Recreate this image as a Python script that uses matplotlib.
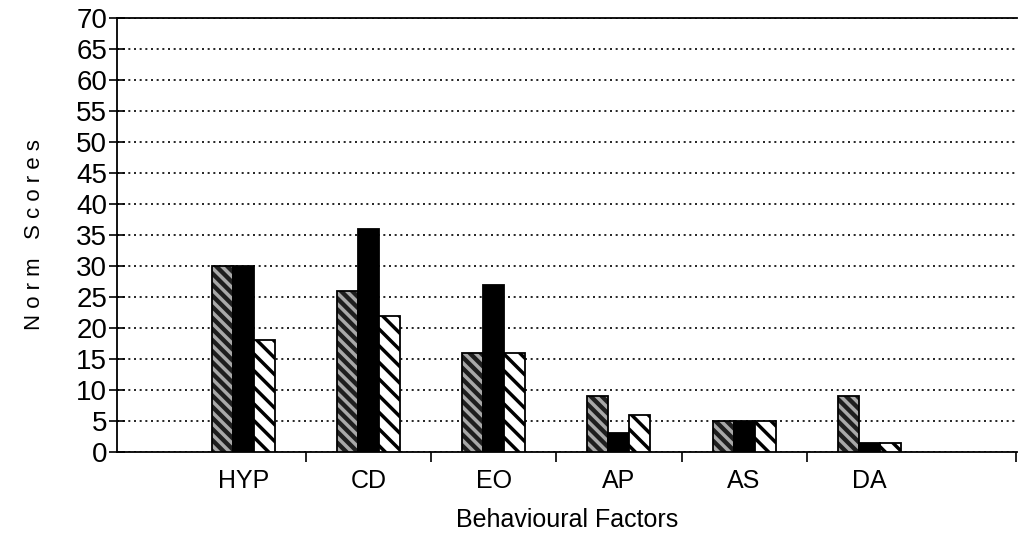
import numpy as np
import matplotlib.pyplot as plt
import matplotlib as mpl

plt.rcParams['font.family'] = ['Liberation Sans', 'DejaVu Sans']
mpl.rcParams['hatch.linewidth'] = 2.5

factors = ['HYP', 'CD', 'EO', 'AP', 'AS', 'DA']
series1 = [30, 26, 16, 9, 5, 9]
series2 = [30, 36, 27, 3, 5, 1.5]
series3 = [18, 22, 16, 6, 5, 1.5]

fig = plt.figure(figsize=(10.2, 5.36), dpi=100)
ax = fig.add_axes([117/1020, 1-452/536, 900/1020, 434/536])

x = np.arange(len(factors))
w = 0.168

# series 1: dark with fine light hatching
ax.bar(x - w, series1, w, color='#1e1e1e', edgecolor='#a8a8a8', hatch='\\\\\\', linewidth=0, zorder=3)
ax.bar(x - w, series1, w, fill=False, edgecolor='black', linewidth=1.3, zorder=4)
# series 2: solid black
ax.bar(x, series2, w, color='black', edgecolor='black', linewidth=1.3, zorder=3)
# series 3: white with heavy stripes
ax.bar(x + w, series3, w, color='white', edgecolor='black', hatch='\\\\', linewidth=0, zorder=3)
ax.bar(x + w, series3, w, fill=False, edgecolor='black', linewidth=1.3, zorder=4)

ax.set_ylim(0, 70)
ax.set_yticks(np.arange(0, 71, 5))
ax.set_xlim(-1.01, 6.18)
ax.set_xticks(x)
ax.set_xticklabels(factors)
ax.set_xticks([0.5, 1.5, 2.5, 3.5, 4.5, 6.17], minor=True)

ax.yaxis.grid(True, linestyle=(0, (1.2, 2.2)), color='black', linewidth=1.2)
ax.set_axisbelow(True)

ax.spines['right'].set_visible(False)
for s in ['left', 'bottom', 'top']:
    ax.spines[s].set_linewidth(1.3)

ax.tick_params(axis='y', direction='inout', length=12, width=1.2, labelsize=20, pad=1)
ax.tick_params(axis='x', which='major', length=0, labelsize=18, pad=12)
ax.tick_params(axis='x', which='minor', direction='out', length=7, width=1.2)

ax.set_xlabel('Behavioural Factors', fontsize=18)
ax.set_ylabel('N o r m   S c o r e s', fontsize=16)
ax.xaxis.set_label_coords(0.5, -0.13)
ax.yaxis.set_label_coords(-0.08, 0.5)

fig.savefig('out.png', dpi=100)
